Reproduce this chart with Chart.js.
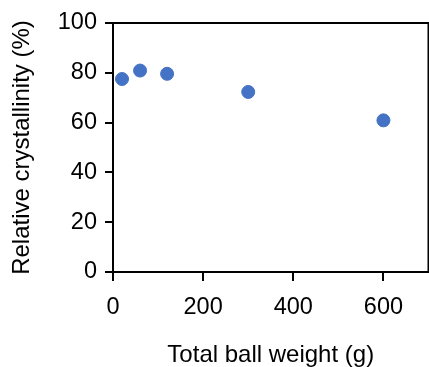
<!DOCTYPE html>
<html lang="en">
<head>
  <meta charset="UTF-8" />
  <title>Relative crystallinity</title>
  <script src="https://cdn.jsdelivr.net/npm/chart.js@4"></script>
  <style>
    html, body { margin: 0; padding: 0; background: #fff; }
    #wrap { width: 429px; height: 367px; }
  </style>
</head>
<body>
  <div id="wrap"><canvas id="c" width="429" height="367"></canvas></div>
  <script>
    // Total ball weight (g) vs relative crystallinity (%)
    const ballWeight = [20, 60, 120, 300, 600];
    const crystallinity = [77.5, 80.9, 79.6, 72.3, 60.9];
    const xTicks = [0, 200, 400, 600];
    const yTicks = [0, 20, 40, 60, 80, 100];

    const family = "'Liberation Sans', Arial, sans-serif";
    const tickFont = { family: family, size: 23.5 };
    const titleFont = { family: family, size: 24 };

    // draws the top and right edges of the box
    const frame = {
      id: 'frame',
      afterDraw(chart) {
        const a = chart.chartArea;
        const ctx = chart.ctx;
        ctx.save();
        ctx.strokeStyle = '#000';
        ctx.lineWidth = 2;
        ctx.beginPath();
        ctx.moveTo(a.left, a.top);
        ctx.lineTo(a.right, a.top);
        ctx.lineTo(a.right, a.bottom);
        ctx.stroke();
        ctx.restore();
      }
    };

    new Chart(document.getElementById('c'), {
      type: 'scatter',
      data: {
        datasets: [{
          data: ballWeight.map((x, i) => ({ x: x, y: crystallinity[i] })),
          backgroundColor: '#4472c4',
          borderColor: '#4472c4',
          pointRadius: 6.5,
          pointHoverRadius: 6.5
        }]
      },
      options: {
        responsive: false,
        animation: false,
        layout: { autoPadding: false, padding: { top: 23, right: 0.5, left: 8, bottom: -3 } },
        plugins: { legend: { display: false }, tooltip: { enabled: false } },
        scales: {
          x: {
            type: 'linear', min: 0, max: 700,
            afterBuildTicks: s => { s.ticks = xTicks.map(v => ({ value: v })); },
            afterFit: s => { s.paddingRight = 0; },
            ticks: { color: '#000', font: tickFont, padding: 12, maxRotation: 0 },
            grid: { drawOnChartArea: false, drawTicks: true, tickLength: 9, color: '#000', lineWidth: 2 },
            border: { color: '#000', width: 2 },
            title: { display: true, text: 'Total ball weight (g)', color: '#000', font: titleFont, padding: { top: 8, bottom: 0 } }
          },
          y: {
            min: 0, max: 100,
            afterBuildTicks: s => { s.ticks = yTicks.map(v => ({ value: v })); },
            ticks: { color: '#000', font: tickFont, padding: 8 },
            grid: { drawOnChartArea: false, drawTicks: true, tickLength: 8, color: '#000', lineWidth: 2 },
            border: { color: '#000', width: 2 },
            title: { display: true, text: 'Relative crystallinity (%)', color: '#000', font: titleFont, padding: { top: 0, bottom: 13 } }
          }
        }
      },
      plugins: [frame]
    });
  </script>
</body>
</html>
